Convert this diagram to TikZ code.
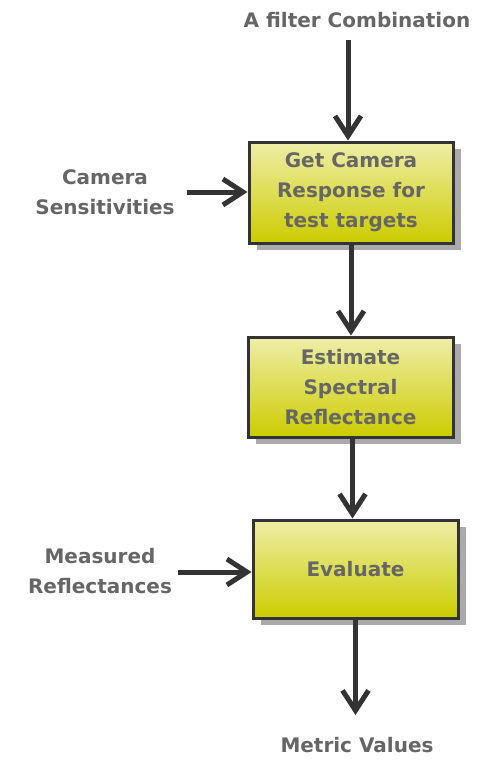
\documentclass[tikz,border=0pt]{standalone}
\usepackage{fontspec}
\setmainfont{DejaVu Sans}
\usetikzlibrary{arrows.meta,shadows}
\definecolor{txtgray}{HTML}{666666}
\definecolor{linedark}{HTML}{333333}
\definecolor{boxtop}{HTML}{EEEEA8}
\definecolor{boxbot}{HTML}{CCCC00}
\definecolor{shadowgray}{HTML}{AAAAAA}
\tikzset{
  procbox/.style={draw=linedark, line width=3pt, top color=boxtop, bottom color=boxbot,
    minimum width=#1, align=center, text=txtgray,
    font=\fontsize{20}{30}\selectfont\bfseries,
    drop shadow={shadow xshift=8pt, shadow yshift=-7pt, fill=shadowgray, opacity=1}},
  label/.style={text=txtgray, align=center, font=\fontsize{20}{30}\selectfont\bfseries},
  flow/.style={draw=linedark, line width=5pt,
    -{Straight Barb[length=20pt, width=26pt, line width=5pt]}}
}
\begin{document}
\begin{tikzpicture}[x=1pt,y=-1pt]
  \useasboundingbox (0,0) rectangle (478,760);
  % inputs and outputs
  \node[label] (filt) at (357,20) {A filter Combination};
  \node[label] (sens) at (105,192) {Camera\\Sensitivities};
  \node[label] (meas) at (100,571) {Measured\\Reflectances};
  \node[label] (metric) at (357,745) {Metric Values};
  % processing steps
  \node[procbox=204pt, minimum height=101pt] (resp) at (351,192.5) {Get Camera\\Response for\\test targets};
  \node[procbox=205pt, minimum height=100pt] (est) at (350.5,387) {Estimate\\Spectral\\Reflectance};
  \node[procbox=205pt, minimum height=98pt] (eval) at (355.5,569) {Evaluate};
  \coordinate (topin) at (348,40);
  \coordinate (out) at (355.5,715);
  \coordinate (sensin) at (187,192);
  \coordinate (measin) at (178,572);
  % connectors
  \draw[flow] (topin) -- (topin |- resp.north);
  \draw[flow] (sensin) -- (sensin -| resp.west);
  \draw[flow] (resp.south) -- (resp.south |- est.north);
  \draw[flow] ([xshift=2pt]est.south) -- ([xshift=2pt]est.south |- eval.north);
  \draw[flow] (measin) -- (measin -| eval.west);
  \draw[flow] (eval.south) -- (out);
\end{tikzpicture}
\end{document}
